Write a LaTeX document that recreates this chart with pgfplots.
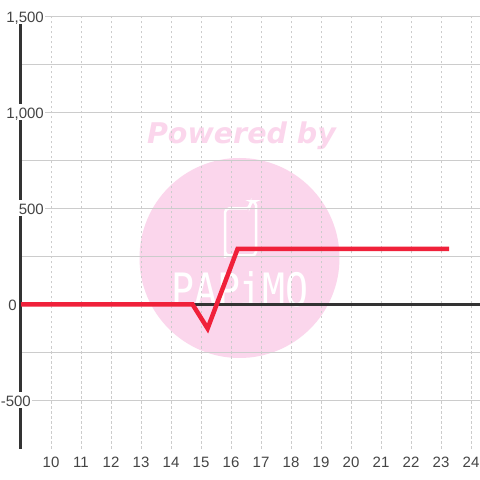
\documentclass[border=0pt]{standalone}
\usepackage{pgfplots}
\pgfplotsset{compat=1.18}
\usepackage{fontspec}
\setmainfont{Liberation Sans}
\newfontfamily\wmfont{DejaVu Sans}
\newfontfamily\logofont{DejaVu Sans Mono}
\definecolor{wm}{HTML}{FBD6EC}
\definecolor{gridc}{HTML}{CCCCCC}
\definecolor{axc}{HTML}{333333}
\definecolor{lab}{HTML}{444444}
\definecolor{redl}{HTML}{F0213A}
\begin{document}
\begin{tikzpicture}
\path[use as bounding box,fill=white] (0,0) rectangle (480pt,480pt);
% watermark
\begin{scope}[x=1pt,y=1pt]
\fill[wm] (239.5,222) circle [radius=100pt];
\node[text=wm,font=\wmfont\bfseries\itshape\fontsize{28.5}{28.5}\selectfont,inner sep=0] at (241.5,344) {Powered by};
\draw[white,line width=2.5pt,rounded corners=4pt] (225,226) -- (225,271.5) -- (250,271.5) -- (250,278.5) -- (256,278.5) -- (256,224.5) -- (225,224.5) -- cycle;
\node[text=white,font=\logofont\fontsize{46}{46}\selectfont,inner sep=0,xscale=0.83] at (240,191) {PAPiMO};
\end{scope}
\begin{axis}[
  at={(20.5pt,31.5pt)},anchor=south west,
  scale only axis,width=459.5pt,height=432pt,
  xmin=8.983,xmax=24.3,ymin=-750,ymax=1500,
  axis x line*=bottom,axis y line*=left,
  x axis line style={draw=none,-},
  y axis line style={draw=axc,line width=3pt,-},
  xtick={10,...,24},
  ytick={-500,0,500,1000,1500},
  yticklabels={-500,0,500,{1,000},{1,500}},
  minor y tick num=1,
  tick style={draw=none},
  xmajorgrids,ymajorgrids,yminorgrids,
  x grid style={gridc,line width=1pt,dash pattern=on 2.5pt off 2.5pt},
  y grid style={gridc,line width=1pt},
  minor y grid style={gridc,line width=1pt},
  extra y ticks={0},
  extra y tick labels={},
  extra tick style={grid=major,major grid style={draw=axc,line width=3pt,solid},y grid style={draw=axc,line width=3pt,solid}},
  tick label style={font=\fontsize{15}{15}\selectfont,text=lab},
  /pgf/number format/assume math mode=true,
  xticklabel style={yshift=-5pt},
  y tick label style={anchor=east,fill=white,text height=14pt,text depth=2pt,inner ysep=0,inner xsep=1pt,
    xshift={(\ticknum==0)*11.5+(\ticknum==1)*(-2.5)+(\ticknum>1)*24.5}},
  clip=false,
]
\addplot[redl,line width=4.5pt,line join=miter] coordinates {
 (9,0) (14.72,0) (15.22,-125) (16.22,290) (23.27,290)};
\end{axis}
\end{tikzpicture}
\end{document}
